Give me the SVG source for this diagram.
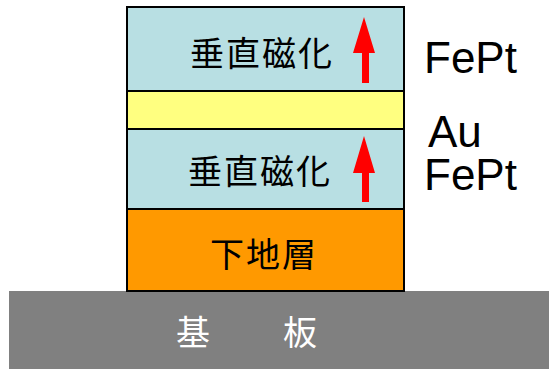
<svg xmlns="http://www.w3.org/2000/svg" width="549" height="371" viewBox="0 0 549 371">
<style>
.layer{stroke:#000;stroke-width:2}
.jp{font-family:"Noto Sans CJK JP","Noto Sans CJK SC",sans-serif;font-size:34px;text-anchor:middle;fill:#000;letter-spacing:2px}
.lbl{font-family:"Liberation Sans",Arial,sans-serif;font-size:44px;fill:#000}
.arrow{fill:#FF0000}
</style>
<rect width="549" height="371" fill="#fff"/>
<g id="substrate">
<rect x="9" y="291" width="540" height="78" fill="#808080"/>
<text x="194" y="345" class="jp" style="fill:#fff">基</text>
<text x="301" y="345" class="jp" style="fill:#fff">板</text>
</g>
<g id="underlayer">
<rect class="layer" x="127" y="209" width="277" height="82" fill="#FF9900"/>
<text x="264" y="267" class="jp">下地層</text>
</g>
<g id="fept-bottom">
<rect class="layer" x="127" y="129" width="277" height="80" fill="#B8DFE3"/>
<text x="260" y="184" class="jp">垂直磁化</text>
</g>
<g id="au">
<rect class="layer" x="127" y="91" width="277" height="38" fill="#FFFF80"/>
</g>
<g id="fept-top">
<rect class="layer" x="127" y="7" width="277" height="84" fill="#B8DFE3"/>
<text x="262" y="66" class="jp">垂直磁化</text>
</g>
<g id="connectors">
<polygon class="arrow" points="364,17 375,53 369,53 369,83 362,83 362,53 353,53"/>
<polygon class="arrow" points="364,136 375,173 369,173 369,202 362,202 362,173 353,173"/>
</g>
<g id="labels">
<text class="lbl"><tspan x="424" y="73">FePt</tspan><tspan x="428" y="147">Au</tspan><tspan x="424" y="190">FePt</tspan></text>
</g>
</svg>
